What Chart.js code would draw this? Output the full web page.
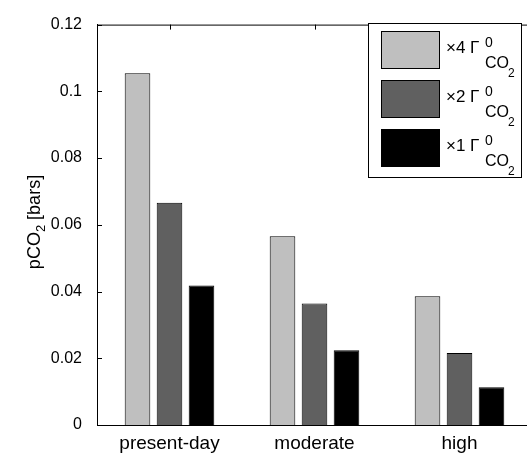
<!DOCTYPE html>
<html>
<head>
<meta charset="utf-8">
<script src="https://cdn.jsdelivr.net/npm/chart.js@4/dist/chart.umd.min.js"></script>
<style>
  html, body { margin: 0; padding: 0; background: #fff; overflow: hidden; }
  #wrap { width: 527px; height: 458px; overflow: hidden; }
</style>
</head>
<body>
<div id="wrap"><canvas id="grafico" width="545" height="458"></canvas></div>
<script>
// values
const categories = ['present-day', 'moderate', 'high'];
const seriesLabels = ['\u00d74', '\u00d72', '\u00d71'];
const x4Flux = [0.1054, 0.0566, 0.0386];
const x2Flux = [0.0666, 0.0364, 0.0216];
const x1Flux = [0.0418, 0.0224, 0.0113];
const yTickLabels = ['0', '0.02', '0.04', '0.06', '0.08', '0.1', '0.12'];

const colores = ['#bfbfbf', '#606060', '#000000'];
const FONT = '"Liberation Sans", Arial, sans-serif';

// MATLAB-like extras: inward ticks, top frame line, legend with sub/superscripts, y title
const decoPlugin = {
    id: 'deco',
    beforeDatasetsDraw(chart) {
        const ctx = chart.ctx;
        const a = chart.chartArea;
        const y = chart.scales.y, x = chart.scales.x;
        ctx.save();
        ctx.strokeStyle = '#000';
        ctx.lineWidth = 1;
        ctx.beginPath();
        y.ticks.forEach(t => {
            const py = Math.round(y.getPixelForValue(t.value)) + 0.5;
            ctx.moveTo(a.left, py); ctx.lineTo(a.left + 5, py);
        });
        categories.forEach((c, i) => {
            const px = Math.round(x.getPixelForValue(i)) + 0.5;
            ctx.moveTo(px, a.top); ctx.lineTo(px, a.top + 5);
            ctx.moveTo(px, a.bottom); ctx.lineTo(px, a.bottom - 5);
        });
        // top frame
        ctx.moveTo(a.left, a.top + 0.5); ctx.lineTo(a.right, a.top + 0.5);
        ctx.stroke();
        ctx.restore();
    },
    afterDraw(chart) {
        const ctx = chart.ctx;
        ctx.save();
        // legend box
        const bx = 368.5, by = 23.5, bw = 153, bh = 154;
        ctx.fillStyle = '#fff';
        ctx.fillRect(bx, by, bw, bh);
        ctx.strokeStyle = '#000';
        ctx.lineWidth = 1;
        ctx.strokeRect(bx, by, bw, bh);
        chart.data.datasets.forEach((ds, i) => {
            const top = 31 + i * 49;
            ctx.fillStyle = ds.backgroundColor;
            ctx.fillRect(381, top, 59, 38);
            ctx.strokeStyle = '#000';
            ctx.strokeRect(381.5, top + 0.5, 58, 37);
            ctx.fillStyle = '#000';
            ctx.textBaseline = 'alphabetic';
            ctx.textAlign = 'left';
            const base = top + 22;
            ctx.font = '17px ' + FONT;
            ctx.fillText(ds.label + ' \u0393', 446, base);
            ctx.font = '14px ' + FONT;
            ctx.fillText('0', 485, base - 6);
            ctx.font = '16px ' + FONT;
            ctx.fillText('CO', 485, base + 15);
            ctx.font = '12px ' + FONT;
            ctx.fillText('2', 508, base + 24);
        });
        // y title pCO2 [bars]
        ctx.translate(40, 222);
        ctx.rotate(-Math.PI / 2);
        ctx.fillStyle = '#000';
        ctx.textBaseline = 'alphabetic';
        ctx.textAlign = 'left';
        ctx.font = '18px ' + FONT;
        const w1 = ctx.measureText('pCO').width;
        const w3 = ctx.measureText(' [bars]').width;
        ctx.font = '13px ' + FONT;
        const w2 = ctx.measureText('2').width;
        const start = -(w1 + w2 + w3) / 2;
        ctx.font = '18px ' + FONT;
        ctx.fillText('pCO', start, 0);
        ctx.font = '13px ' + FONT;
        ctx.fillText('2', start + w1, 5);
        ctx.font = '18px ' + FONT;
        ctx.fillText(' [bars]', start + w1 + w2, 0);
        ctx.restore();
    }
};

const ctx = document.getElementById('grafico').getContext('2d');
new Chart(ctx, {
    type: 'bar',
    data: {
        labels: categories,
        datasets: [x4Flux, x2Flux, x1Flux].map((vals, i) => ({
            label: seriesLabels[i],
            data: vals,
            backgroundColor: colores[i],
            borderColor: '#000',
            borderWidth: 1,
            categoryPercentage: 0.662,
            barPercentage: 0.8
        }))
    },
    options: {
        responsive: false,
        animation: false,
        layout: { padding: { top: 15, right: 13, left: 0, bottom: 0 } },
        plugins: { legend: { display: false }, tooltip: { enabled: false } },
        scales: {
            x: {
                offset: true,
                grid: { display: false, drawTicks: false },
                border: { display: true, color: '#000', width: 1 },
                ticks: { color: '#000', font: { family: FONT, size: 19 }, padding: 7, maxRotation: 0 },
                afterFit: s => { s.height = 33; }
            },
            y: {
                min: 0,
                max: 0.12,
                grid: { display: false, drawTicks: false },
                border: { display: true, color: '#000', width: 1 },
                ticks: {
                    stepSize: 0.02,
                    color: '#000',
                    font: { family: FONT, size: 16 },
                    padding: 15,
                    callback: (v, i) => yTickLabels[i]
                },
                afterFit: s => { s.width = 97; }
            }
        }
    },
    plugins: [decoPlugin]
});
</script>
</body>
</html>
